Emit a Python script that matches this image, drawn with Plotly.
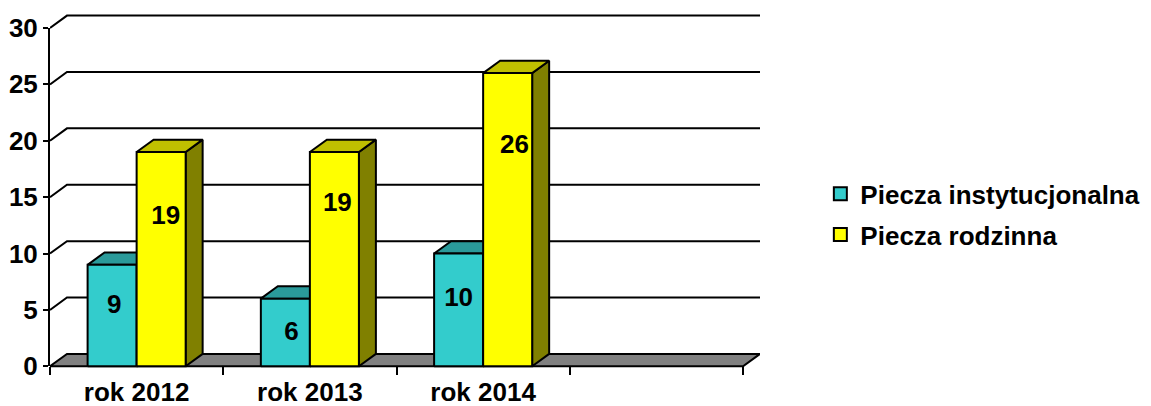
import plotly.graph_objects as go

# ---- data -------------------------------------------------------------
categories = ["rok 2012", "rok 2013", "rok 2014"]
series_names = ["Piecza instytucjonalna", "Piecza rodzinna"]
instytucjonalna = [9, 6, 10]
rodzinna = [19, 19, 26]
y_ticks = [0, 5, 10, 15, 20, 25, 30]
slot_count = 4  # the category axis keeps one empty slot on the right

# ---- styling ----------------------------------------------------------
FONT = "Liberation Sans, Arial, sans-serif"
FONT_SIZE = 26
front_colors = ["#33CCCC", "#FFFF00"]
top_colors = ["#2A9A9A", "#C0C000"]
side_colors = ["#1F7777", "#808000"]
floor_color = "#808080"
BAR_W = 0.283          # width of one bar front, in category units
DEPTH_X = 0.098        # oblique depth, category units
DEPTH_Y = 1.1          # oblique depth, value units
LINE_W = 2
# where each value label sits: fraction of bar height, and sideways nudge
label_frac = [[0.585, 0.49, 0.592], [0.695, 0.757, 0.751]]
label_dx = [[0.012, 0.035, 0.0], [0.026, 0.017, 0.04]]

y_lo, y_hi = -0.15, 31.33
x_lo, x_hi = -0.5, slot_count - 0.5 + DEPTH_X
y_max = max(y_ticks)

series_values = [instytucjonalna, rodzinna]


def add_poly(xs, ys, pts):
    for px, py in pts:
        xs.append(px)
        ys.append(py)
    xs.append(pts[0][0])
    ys.append(pts[0][1])
    xs.append(None)
    ys.append(None)


fig = go.Figure()

# floor of the 3-D box
fx, fy = [], []
add_poly(fx, fy, [(x_lo, 0), (slot_count - 0.5, 0),
                  (slot_count - 0.5 + DEPTH_X, DEPTH_Y), (x_lo + DEPTH_X, DEPTH_Y)])
fig.add_trace(go.Scatter(x=fx, y=fy, mode="lines", fill="toself",
                         fillcolor=floor_color, line=dict(color="black", width=LINE_W),
                         xaxis="x", yaxis="y2", showlegend=False, hoverinfo="skip"))

# back-wall gridlines with their side-wall diagonals
gx, gy = [], []
for v in y_ticks[1:]:
    gx += [x_lo, x_lo + DEPTH_X, x_hi, None]
    gy += [v, v + DEPTH_Y, v + DEPTH_Y, None]
fig.add_trace(go.Scatter(x=gx, y=gy, mode="lines",
                         line=dict(color="black", width=LINE_W),
                         xaxis="x", yaxis="y2", showlegend=False, hoverinfo="skip"))

# bars: side + top faces first, then the front face, series by series
for s, values in enumerate(series_values):
    side_x, side_y, top_x, top_y, fr_x, fr_y = [], [], [], [], [], []
    for i, v in enumerate(values):
        x0 = i - BAR_W + s * BAR_W
        x1 = x0 + BAR_W
        add_poly(side_x, side_y, [(x1, 0), (x1 + DEPTH_X, DEPTH_Y),
                                  (x1 + DEPTH_X, v + DEPTH_Y), (x1, v)])
        add_poly(top_x, top_y, [(x0, v), (x1, v),
                                (x1 + DEPTH_X, v + DEPTH_Y), (x0 + DEPTH_X, v + DEPTH_Y)])
        add_poly(fr_x, fr_y, [(x0, 0), (x1, 0), (x1, v), (x0, v)])
    for xs, ys, col in [(side_x, side_y, side_colors[s]),
                        (top_x, top_y, top_colors[s]),
                        (fr_x, fr_y, front_colors[s])]:
        fig.add_trace(go.Scatter(x=xs, y=ys, mode="lines", fill="toself",
                                 fillcolor=col, line=dict(color="black", width=LINE_W),
                                 xaxis="x", yaxis="y2", showlegend=False,
                                 hoverinfo="skip"))

# value labels
for s, values in enumerate(series_values):
    tx, ty, tt = [], [], []
    for i, v in enumerate(values):
        x0 = i - BAR_W + s * BAR_W
        tx.append(x0 + BAR_W / 2 + label_dx[s][i])
        ty.append(v * label_frac[s][i])
        tt.append(str(v))
    fig.add_trace(go.Scatter(x=tx, y=ty, text=tt, mode="text",
                             textfont=dict(family=FONT, size=FONT_SIZE, color="black",
                                           weight="bold"),
                             xaxis="x", yaxis="y2", showlegend=False, hoverinfo="skip"))

# legend entries (square swatches)
for s, name in enumerate(series_names):
    fig.add_trace(go.Scatter(x=[None], y=[None], name=name, legendgroup=name,
                             mode="markers",
                             marker=dict(symbol="square", size=13, color=front_colors[s],
                                         line=dict(color="black", width=LINE_W)),
                             xaxis="x", yaxis="y", hoverinfo="skip"))

d0 = (0 - y_lo) / (y_hi - y_lo)
d1 = (y_max - y_lo) / (y_hi - y_lo)

tick_font = dict(family=FONT, size=FONT_SIZE, color="black", weight="bold")

fig.update_layout(
    width=1151, height=406,
    margin=dict(l=50, r=391, t=13, b=38.3, autoexpand=False),
    paper_bgcolor="white", plot_bgcolor="rgba(0,0,0,0)",
    font=dict(family=FONT, size=FONT_SIZE, color="black"),
    showlegend=True,
    legend=dict(x=1.085, xanchor="left", y=0.433, yanchor="middle",
                font=dict(family=FONT, size=FONT_SIZE, color="black", weight="bold"),
                traceorder="grouped", tracegroupgap=4, bgcolor="rgba(0,0,0,0)"),
    xaxis=dict(range=[x_lo, x_hi], domain=[0, 1], anchor="y", automargin=False,
               tickvals=list(range(len(categories))), ticktext=categories,
               ticks="", showgrid=False, zeroline=False, showline=False,
               tickfont=tick_font, ticklabelstandoff=8,
               minor=dict(tickmode="array",
                          tickvals=[k - 0.5 for k in range(slot_count + 1)],
                          ticks="outside", ticklen=8, tickwidth=LINE_W,
                          tickcolor="black", showgrid=False),
               fixedrange=True),
    yaxis=dict(range=[0, y_max], domain=[d0, d1], anchor="x", automargin=False,
               tickvals=y_ticks, ticks="outside", ticklen=5, tickwidth=LINE_W,
               tickcolor="black", showline=True, linewidth=LINE_W, linecolor="black",
               showgrid=False, zeroline=False, tickfont=tick_font, fixedrange=True),
    yaxis2=dict(range=[y_lo, y_hi], domain=[0, 1], anchor="x", visible=False,
                automargin=False, showgrid=False, zeroline=False, fixedrange=True),
)

fig.write_html("out.html")
